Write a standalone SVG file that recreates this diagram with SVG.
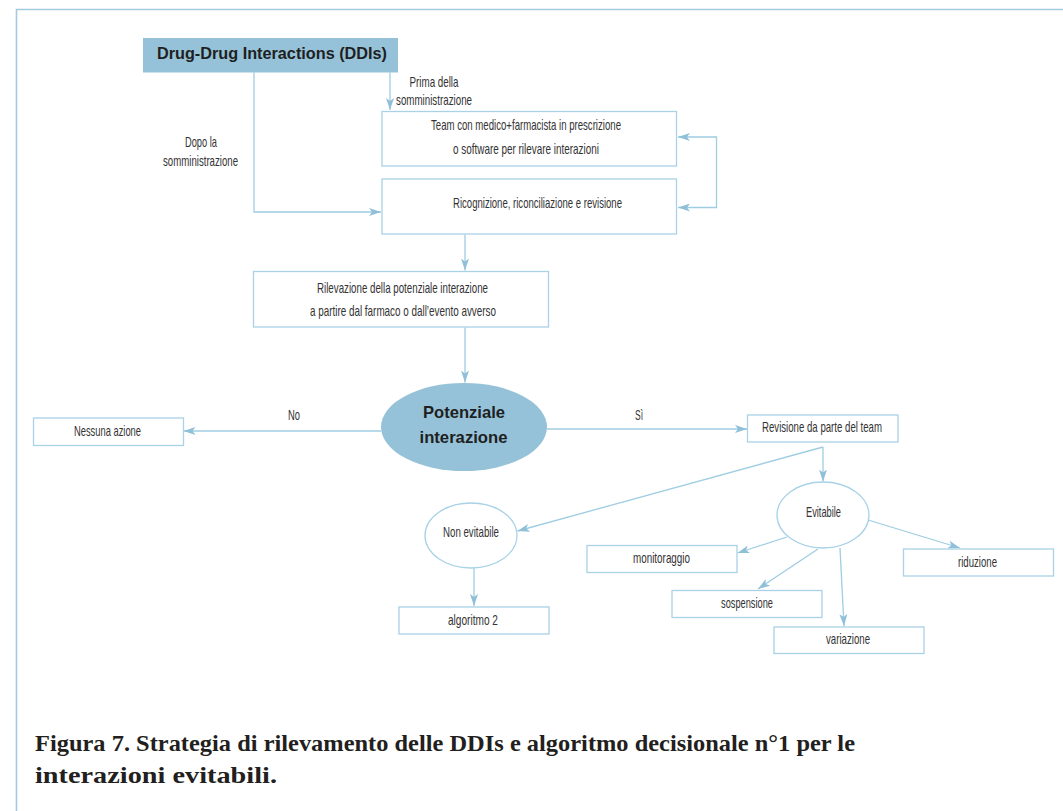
<svg xmlns="http://www.w3.org/2000/svg" width="1063" height="811" viewBox="0 0 1063 811">
  <style>
    .frame { fill: none; stroke: #a3cbe0; stroke-width: 1.6; }
    .box { fill: #ffffff; stroke: #a9d2e6; stroke-width: 1.3; }
    .head { fill: #95c2d8; stroke: none; }
    .t { font-family: "Liberation Sans Narrow", "Liberation Sans", Arial, sans-serif; font-size: 14.5px; fill: #333333; text-anchor: middle; }
    .b { font-family: "Liberation Sans", Arial, sans-serif; font-weight: bold; font-size: 16.5px; fill: #1f1f1f; text-anchor: middle; }
    .link { fill: none; stroke: #9fcde2; stroke-width: 1.3; marker-end: url(#arrow); }
    .cap { font-family: "Liberation Serif", "Times New Roman", serif; font-weight: bold; font-size: 23px; fill: #231f20; }
  </style>
  <defs>
    <marker id="arrow" markerUnits="userSpaceOnUse" markerWidth="13" markerHeight="8" refX="12" refY="4" orient="auto-start-reverse">
      <path d="M0,0 L12,4 L0,8 L3,4 Z" fill="#8fc0d8"/>
    </marker>
  </defs>

  <rect width="1063" height="811" fill="#ffffff"/>
  <path class="frame" d="M16.5,811 V9.5 H1063"/>

  <!-- connectors -->
  <g id="connectors">
    <path class="link" d="M254,72.5 V212 H381"/>
    <path class="link" d="M390,72.5 V110"/>
    <path class="link" d="M678,137 H716.5 V207.5 H678" marker-start="url(#arrow)"/>
    <path class="link" d="M465,234.5 V270.5"/>
    <path class="link" d="M465,327.5 V382.5"/>
    <path class="link" d="M381,431 H183.5"/>
    <path class="link" d="M547,429 H747"/>
    <path class="link" d="M823,447 V481.5"/>
    <path class="link" d="M823,447 L517.5,531"/>
    <path class="link" d="M474,568 V606"/>
    <path class="link" d="M787,537 L737.5,553"/>
    <path class="link" d="M818,549 L758,589"/>
    <path class="link" d="M840,548 L844,626"/>
    <path class="link" d="M868,520 L960,548"/>
    <text class="t" x="434" y="87" textLength="49" lengthAdjust="spacingAndGlyphs">Prima della</text>
    <text class="t" x="434" y="105" textLength="76" lengthAdjust="spacingAndGlyphs">somministrazione</text>
    <text class="t" x="201" y="147" textLength="32" lengthAdjust="spacingAndGlyphs">Dopo la</text>
    <text class="t" x="200.5" y="166" textLength="75" lengthAdjust="spacingAndGlyphs">somministrazione</text>
    <text class="t" x="294" y="420" textLength="12" lengthAdjust="spacingAndGlyphs">No</text>
    <text class="t" x="639" y="420" textLength="8" lengthAdjust="spacingAndGlyphs">Sì</text>
  </g>

  <g id="ddi">
    <rect class="head" x="143" y="38" width="255" height="34.5"/>
    <text class="b" x="272" y="59" textLength="230" lengthAdjust="spacingAndGlyphs">Drug-Drug Interactions (DDIs)</text>
  </g>

  <g id="team">
    <rect class="box" x="382" y="111.5" width="294.5" height="54.5"/>
    <text class="t" x="526" y="130" textLength="190" lengthAdjust="spacingAndGlyphs">Team con medico+farmacista in prescrizione</text>
    <text class="t" x="526" y="154" textLength="146" lengthAdjust="spacingAndGlyphs">o software per rilevare interazioni</text>
  </g>

  <g id="ricognizione">
    <rect class="box" x="382" y="179" width="294.5" height="55"/>
    <text class="t" x="537.5" y="208" textLength="169" lengthAdjust="spacingAndGlyphs">Ricognizione, riconciliazione e revisione</text>
  </g>

  <g id="rilevazione">
    <rect class="box" x="253.5" y="271.5" width="295" height="55.5"/>
    <text class="t" x="402.5" y="293" textLength="171" lengthAdjust="spacingAndGlyphs">Rilevazione della potenziale interazione</text>
    <text class="t" x="403" y="316" textLength="186" lengthAdjust="spacingAndGlyphs">a partire dal farmaco o dall’evento avverso</text>
  </g>

  <g id="potenziale">
    <ellipse class="head" cx="464" cy="427" rx="83" ry="44"/>
    <text class="b" x="464" y="418" textLength="82" lengthAdjust="spacingAndGlyphs">Potenziale</text>
    <text class="b" x="463.5" y="443" textLength="88" lengthAdjust="spacingAndGlyphs">interazione</text>
  </g>

  <g id="nessuna">
    <rect class="box" x="33.5" y="418" width="150" height="27.5"/>
    <text class="t" x="107.5" y="436" textLength="67" lengthAdjust="spacingAndGlyphs">Nessuna azione</text>
  </g>

  <g id="revisione">
    <rect class="box" x="747.5" y="415" width="150.5" height="27"/>
    <text class="t" x="822" y="432" textLength="120" lengthAdjust="spacingAndGlyphs">Revisione da parte del team</text>
  </g>

  <g id="evitabile">
    <ellipse class="box" cx="823" cy="515" rx="46" ry="33"/>
    <text class="t" x="823.5" y="517" textLength="35" lengthAdjust="spacingAndGlyphs">Evitabile</text>
  </g>

  <g id="non-evitabile">
    <ellipse class="box" cx="471" cy="535.5" rx="46" ry="32.5"/>
    <text class="t" x="471" y="537" textLength="56" lengthAdjust="spacingAndGlyphs">Non evitabile</text>
  </g>

  <g id="algoritmo2">
    <rect class="box" x="399" y="607" width="150" height="27"/>
    <text class="t" x="473" y="625" textLength="50" lengthAdjust="spacingAndGlyphs">algoritmo 2</text>
  </g>

  <g id="monitoraggio">
    <rect class="box" x="587" y="545.5" width="150" height="27"/>
    <text class="t" x="661.5" y="563" textLength="57" lengthAdjust="spacingAndGlyphs">monitoraggio</text>
  </g>

  <g id="sospensione">
    <rect class="box" x="672" y="590.5" width="150" height="27"/>
    <text class="t" x="747" y="608" textLength="52" lengthAdjust="spacingAndGlyphs">sospensione</text>
  </g>

  <g id="variazione">
    <rect class="box" x="774" y="627" width="150" height="26.5"/>
    <text class="t" x="848" y="644" textLength="44" lengthAdjust="spacingAndGlyphs">variazione</text>
  </g>

  <g id="riduzione">
    <rect class="box" x="903.5" y="549" width="150" height="27"/>
    <text class="t" x="977.5" y="567" textLength="39" lengthAdjust="spacingAndGlyphs">riduzione</text>
  </g>

  <g id="caption">
    <text class="cap" x="35" y="751" textLength="820" lengthAdjust="spacingAndGlyphs">Figura 7. Strategia di rilevamento delle DDIs e algoritmo decisionale n°1 per le</text>
    <text class="cap" x="35" y="783" textLength="242" lengthAdjust="spacingAndGlyphs">interazioni evitabili.</text>
  </g>
</svg>
